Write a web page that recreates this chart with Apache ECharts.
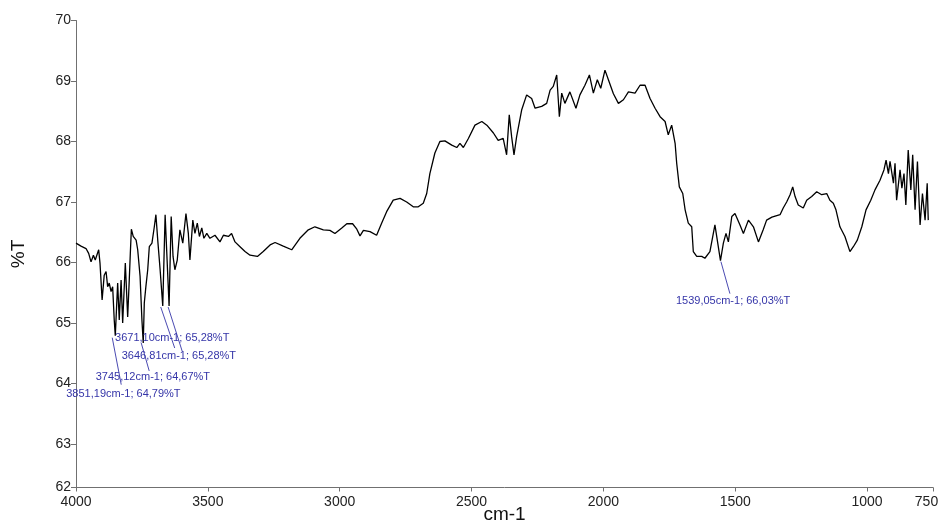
<!DOCTYPE html>
<html>
<head>
<meta charset="utf-8">
<script src="https://cdn.jsdelivr.net/npm/echarts@6/dist/echarts.min.js"></script>
<style>
html,body{margin:0;padding:0;background:#fff;}
#chart{width:941px;height:527px;}
</style>
</head>
<body>
<div id="chart"></div>
<script>
// ---- data ----
const wavenumbers = [4000,3981,3962,3952,3943,3934,3927,3914,3909,3901,3893,3886,3880,3874,3867,3861,3855,3851,3842,3836,3829,3823,3813,3804,3798,3794,3790,3783,3772,3766,3757,3750,3745,3741,3735,3728,3722,3712,3703,3697,3690,3681,3671,3662,3647,3639,3632,3625,3616,3606,3595,3583,3574,3568,3557,3549,3540,3532,3523,3515,3504,3492,3473,3454,3441,3422,3410,3397,3378,3359,3340,3312,3290,3264,3245,3214,3182,3151,3119,3094,3062,3037,3018,2992,2973,2951,2935,2923,2910,2885,2860,2841,2822,2797,2771,2746,2721,2702,2683,2670,2658,2639,2620,2601,2575,2556,2544,2531,2512,2487,2461,2442,2417,2399,2380,2367,2357,2348,2339,2329,2310,2291,2272,2259,2234,2215,2202,2190,2177,2167,2158,2146,2127,2104,2089,2070,2053,2038,2023,2010,1994,1981,1962,1943,1924,1905,1880,1861,1842,1823,1804,1785,1766,1754,1741,1728,1722,1712,1699,1690,1678,1665,1659,1646,1627,1615,1596,1577,1556,1545,1535,1526,1513,1501,1482,1469,1450,1431,1412,1394,1381,1361,1330,1318,1305,1292,1282,1273,1261,1242,1229,1210,1191,1172,1153,1141,1128,1118,1103,1084,1065,1052,1037,1020,1004,986,970,951,936,928,919,913,900,894,888,875,868,860,853,844,834,827,818,809,799,790,780,772,768];
const transmittance = [66.32,66.27,66.23,66.15,66.01,66.12,66.04,66.21,65.99,65.38,65.79,65.85,65.60,65.66,65.52,65.60,65.05,64.79,65.66,65.05,65.71,65.00,65.99,65.10,65.71,66.15,66.55,66.43,66.37,66.21,65.77,65.05,64.67,65.33,65.60,65.88,66.26,66.32,66.59,66.79,66.37,65.88,65.28,66.79,65.28,66.76,66.10,65.88,66.04,66.54,66.32,66.81,66.48,66.04,66.70,66.48,66.65,66.43,66.57,66.40,66.48,66.40,66.45,66.34,66.45,66.43,66.48,66.34,66.26,66.18,66.12,66.10,66.18,66.29,66.33,66.27,66.21,66.40,66.54,66.59,66.54,66.53,66.48,66.57,66.64,66.64,66.55,66.44,66.53,66.51,66.45,66.65,66.84,67.03,67.06,67.00,66.92,66.92,66.98,67.14,67.47,67.81,68.00,68.01,67.94,67.90,67.97,67.90,68.05,68.27,68.33,68.27,68.14,68.02,68.05,67.78,68.44,68.08,67.78,68.08,68.52,68.77,68.71,68.55,68.58,68.63,68.85,68.91,69.10,68.41,68.80,68.63,68.82,68.55,68.77,68.93,69.10,68.80,69.02,68.88,69.18,69.02,68.79,68.63,68.69,68.82,68.80,68.93,68.93,68.71,68.55,68.41,68.33,68.11,68.27,67.97,67.64,67.25,67.14,66.87,66.65,66.59,66.18,66.10,66.10,66.07,66.18,66.62,66.03,66.32,66.48,66.34,66.76,66.81,66.62,66.48,66.70,66.59,66.34,66.54,66.70,66.75,66.79,66.90,67.00,67.12,67.25,67.09,66.95,66.90,67.03,67.09,67.17,67.12,67.14,67.03,66.98,66.87,66.59,66.43,66.18,66.26,66.37,66.59,66.87,67.03,67.20,67.36,67.53,67.69,67.47,67.67,67.31,67.64,67.03,67.53,67.23,67.47,66.95,67.86,67.20,67.78,66.87,67.67,66.62,67.14,66.70,67.31,66.70];

const peakWavenumbers = [3851.19, 3745.12, 3671.10, 3646.81, 1539.05];
const peakTransmittance = [64.79, 64.67, 65.28, 65.28, 66.03];
const peakLabels = ['3851,19cm-1; 64,79%T', '3745,12cm-1; 64,67%T', '3671,10cm-1; 65,28%T', '3646,81cm-1; 65,28%T', '1539,05cm-1; 66,03%T'];

const xAxisTitle = 'cm-1';
const yAxisTitle = '%T';

// ---- layout (pixel offsets of leader lines and labels relative to the peak) ----
const peakLabelLayout = [
  {sx: -3, sy: 2, ex: 6, ey: 49, tx: -49, ty: 58},
  {sx: -2, sy: 0, ex: 6, ey: 28, tx: -47.5, ty: 34},
  {sx: -2, sy: 1, ex: 12, ey: 42, tx: -47.7, ty: 32},
  {sx: -1, sy: 1, ex: 13, ey: 45, tx: -47.4, ty: 50},
  {sx: -4, sy: 1, ex: 5, ey: 33, tx: -49, ty: 40}
];

const FONT = "'Liberation Sans', Arial, sans-serif";
const ANN_COLOR = '#3535a8';

const chart = echarts.init(document.getElementById('chart'), null, {renderer: 'canvas'});

const spectrum = wavenumbers.map((w, i) => [w, transmittance[i]]);
const peaks = peakWavenumbers.map((w, i) => [w, peakTransmittance[i]]);

chart.setOption({
  animation: false,
  backgroundColor: '#ffffff',
  grid: {left: 76, right: 8, top: 20.5, bottom: 39.5, containLabel: false, outerBoundsMode: 'none'},
  xAxis: {
    type: 'value',
    min: 750,
    max: 4000,
    inverse: true,
    splitNumber: 7,
    name: xAxisTitle,
    nameLocation: 'middle',
    nameGap: 18,
    nameMoveOverlap: false,
    nameTextStyle: {fontFamily: FONT, fontSize: 19, color: '#111'},
    axisLine: {show: true, onZero: false, lineStyle: {color: '#707070', width: 1}},
    axisTick: {show: true, length: 4, lineStyle: {color: '#707070'}},
    axisLabel: {show: true, showMinLabel: true, showMaxLabel: true, margin: 8, fontFamily: FONT, fontSize: 14, color: '#222',
      formatter: v => (v <= 750 ? '{edge|' + Math.round(v) + '}' : String(Math.round(v))),
      rich: {edge: {fontFamily: FONT, fontSize: 14, color: '#222', padding: [0, 13, 0, 0]}}},
    splitLine: {show: false}
  },
  yAxis: {
    type: 'value',
    min: 62.28,
    max: 70,
    splitNumber: 8,
    name: yAxisTitle,
    nameLocation: 'middle',
    nameRotate: 90,
    nameGap: 48,
    nameMoveOverlap: false,
    nameTextStyle: {fontFamily: FONT, fontSize: 19, color: '#111'},
    axisLine: {show: true, onZero: false, lineStyle: {color: '#707070', width: 1}},
    axisTick: {show: true, length: 5, lineStyle: {color: '#707070'}},
    axisLabel: {show: true, showMinLabel: true, showMaxLabel: true, margin: 5, fontFamily: FONT, fontSize: 14, color: '#222',
      formatter: v => String(Math.round(v))},
    splitLine: {show: false}
  },
  series: [
    {
      type: 'line',
      data: spectrum,
      showSymbol: false,
      symbol: 'none',
      lineStyle: {color: '#000', width: 1.3},
      z: 3
    },
    {
      type: 'custom',
      data: peaks,
      z: 4,
      renderItem: function (params, api) {
        const p = api.coord([api.value(0), api.value(1)]);
        const L = peakLabelLayout[params.dataIndex];
        return {
          type: 'group',
          children: [
            {type: 'line', shape: {x1: p[0] + L.sx, y1: p[1] + L.sy, x2: p[0] + L.ex, y2: p[1] + L.ey},
             style: {stroke: ANN_COLOR, lineWidth: 0.9}},
            {type: 'text', x: p[0] + L.tx, y: p[1] + L.ty,
             style: {text: peakLabels[params.dataIndex], fill: ANN_COLOR, font: "11px 'Liberation Sans', Arial, sans-serif",
                     textAlign: 'left', textVerticalAlign: 'middle'}}
          ]
        };
      }
    }
  ]
});
</script>
</body>
</html>
